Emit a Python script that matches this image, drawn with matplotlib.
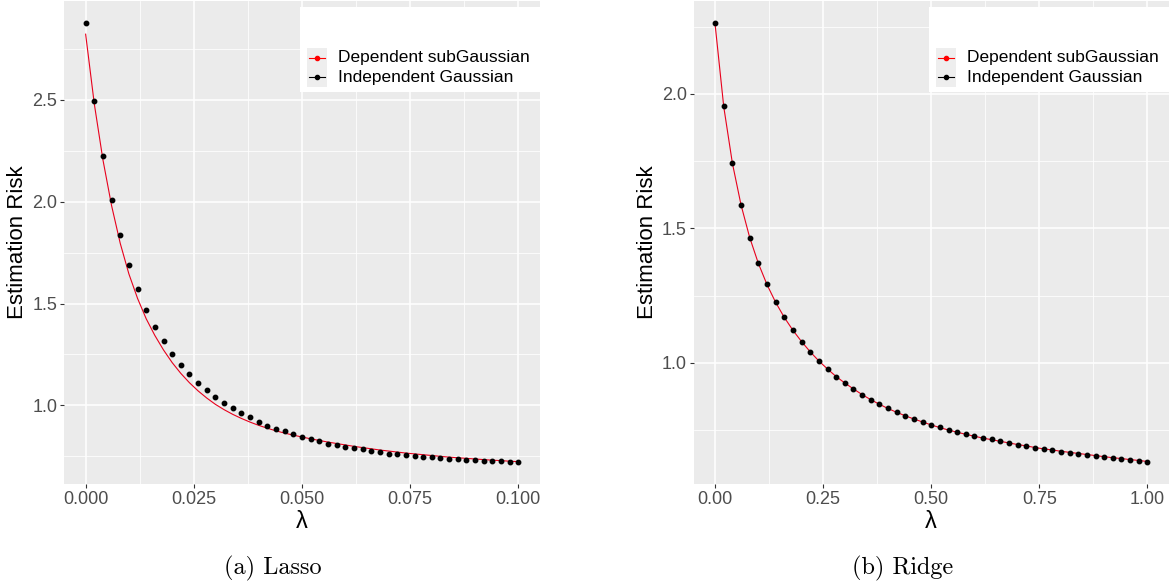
import numpy as np
import matplotlib.pyplot as plt
from matplotlib.patches import Rectangle
from matplotlib.lines import Line2D

plt.rcParams['font.family'] = ['Liberation Sans', 'DejaVu Sans']

# 数据：lambda 网格
lasso_lambda = np.linspace(0, 0.1, 51)
ridge_lambda = np.linspace(0, 1.0, 51)

# Lasso: Dependent subGaussian (红线)
lasso_dep = [2.822, 2.480, 2.205, 1.980, 1.795, 1.645, 1.525, 1.425, 1.343, 1.272,
             1.210, 1.157, 1.111, 1.071, 1.036, 1.005, 0.979, 0.956, 0.936, 0.918,
             0.902, 0.888, 0.875, 0.864, 0.854, 0.845, 0.836, 0.828, 0.820, 0.813,
             0.806, 0.799, 0.793, 0.787, 0.781, 0.776, 0.771, 0.766, 0.762, 0.758,
             0.754, 0.750, 0.746, 0.743, 0.740, 0.737, 0.734, 0.731, 0.729, 0.726,
             0.724]
# Lasso: Independent Gaussian (黑点)
lasso_ind = [2.877, 2.492, 2.226, 2.010, 1.837, 1.691, 1.570, 1.469, 1.386, 1.314,
             1.251, 1.197, 1.152, 1.108, 1.074, 1.040, 1.013, 0.985, 0.962, 0.941,
             0.918, 0.901, 0.886, 0.873, 0.859, 0.847, 0.835, 0.824, 0.813, 0.805,
             0.797, 0.790, 0.784, 0.775, 0.769, 0.763, 0.762, 0.756, 0.751, 0.748,
             0.745, 0.741, 0.739, 0.735, 0.734, 0.730, 0.728, 0.727, 0.725, 0.722,
             0.722]

# Ridge
ridge_dep = [2.258, 1.952, 1.742, 1.587, 1.466, 1.370, 1.291, 1.225, 1.169, 1.121,
             1.079, 1.041, 1.007, 0.977, 0.949, 0.925, 0.903, 0.882, 0.863, 0.846,
             0.830, 0.816, 0.803, 0.791, 0.780, 0.769, 0.759, 0.750, 0.742, 0.734,
             0.727, 0.720, 0.714, 0.708, 0.702, 0.696, 0.691, 0.685, 0.680, 0.676,
             0.671, 0.667, 0.663, 0.659, 0.655, 0.651, 0.647, 0.644, 0.640, 0.637,
             0.633]
ridge_ind = [2.264, 1.955, 1.743, 1.588, 1.466, 1.372, 1.292, 1.225, 1.169, 1.122,
             1.079, 1.040, 1.006, 0.976, 0.948, 0.925, 0.903, 0.882, 0.863, 0.846,
             0.831, 0.816, 0.803, 0.791, 0.780, 0.770, 0.760, 0.750, 0.742, 0.735,
             0.728, 0.721, 0.715, 0.708, 0.701, 0.695, 0.690, 0.684, 0.679, 0.674,
             0.669, 0.666, 0.662, 0.658, 0.654, 0.649, 0.645, 0.641, 0.638, 0.636,
             0.631]

lasso_xticks = [0.0, 0.025, 0.05, 0.075, 0.1]
lasso_xlabels = ["0.000", "0.025", "0.050", "0.075", "0.100"]
lasso_yticks = [1.0, 1.5, 2.0, 2.5]
ridge_xticks = [0.0, 0.25, 0.5, 0.75, 1.0]
ridge_xlabels = ["0.00", "0.25", "0.50", "0.75", "1.00"]
ridge_yticks = [1.0, 1.5, 2.0]

legend_labels = ["Dependent subGaussian", "Independent Gaussian"]
captions = ["(a) Lasso", "(b) Ridge"]

W, H = 1172, 586


def draw_panel(ax, lam, dep, ind, xticks, xlabels, yticks):
    ax.set_facecolor("#EBEBEB")
    for s in ax.spines.values():
        s.set_visible(False)
    # ggplot 风格的 5% 扩展
    xr = lam[-1] - lam[0]
    ax.set_xlim(lam[0] - 0.05 * xr, lam[-1] + 0.05 * xr)
    lo = min(min(dep), min(ind))
    hi = max(max(dep), max(ind))
    ax.set_ylim(lo - 0.05 * (hi - lo), hi + 0.05 * (hi - lo))

    ax.set_xticks(xticks)
    ax.set_xticklabels(xlabels)
    ax.set_xticks([(a + b) / 2 for a, b in zip(xticks[:-1], xticks[1:])], minor=True)
    ax.set_yticks(yticks)
    ax.set_yticklabels(["%.1f" % v for v in yticks])
    ymin = [yticks[0] - 0.25] + [(a + b) / 2 for a, b in zip(yticks[:-1], yticks[1:])] + [yticks[-1] + 0.25]
    ax.set_yticks(ymin, minor=True)

    ax.grid(which="major", color="white", lw=1.1)
    ax.grid(which="minor", color="white", lw=0.55)
    ax.set_axisbelow(True)
    ax.tick_params(which="major", length=2.9, width=0.8, color="#333333",
                   labelcolor="#4D4D4D", labelsize=13, pad=2)
    ax.tick_params(which="minor", length=0)

    ax.plot(lam, dep, color="#E8001C", lw=0.8, zorder=3)
    ax.plot(lam, ind, "o", color="black", ms=3.2, zorder=4)

    ax.set_xlabel("λ", fontsize=17, va="center")
    ax.xaxis.set_label_coords(0.5, -0.079)
    ax.set_ylabel("Estimation Risk", fontsize=16, va="center")
    ax.yaxis.set_label_coords(-0.097, 0.5)

    # 图例（白底，灰色 key）
    ax.add_patch(Rectangle((0.496, 0.812), 0.504, 0.176, transform=ax.transAxes,
                           fc="white", ec="none", zorder=5, clip_on=False))
    for i, (lab, col) in enumerate(zip(legend_labels, ["red", "black"])):
        yc = 0.883 - i * 0.041
        ax.add_patch(Rectangle((0.5105, yc - 0.0205), 0.042, 0.041, transform=ax.transAxes,
                               fc="#EEEEEE", ec="none", zorder=6))
        ax.add_line(Line2D([0.515, 0.548], [yc, yc], transform=ax.transAxes,
                           color=col, lw=0.8, zorder=7))
        ax.add_line(Line2D([0.5315], [yc], transform=ax.transAxes, marker="o",
                           color=col, ms=3, zorder=7))
        ax.text(0.5756, yc, lab, transform=ax.transAxes, fontsize=12.5,
                va="center", ha="left", zorder=7)


fig = plt.figure(figsize=(W / 100, H / 100), dpi=100)
ax1 = fig.add_axes([64 / W, 1 - 484 / H, 476 / W, 483 / H])
ax2 = fig.add_axes([693.5 / W, 1 - 484 / H, 475.5 / W, 483 / H])

draw_panel(ax1, lasso_lambda, lasso_dep, lasso_ind, lasso_xticks, lasso_xlabels, lasso_yticks)
draw_panel(ax2, ridge_lambda, ridge_dep, ridge_ind, ridge_xticks, ridge_xlabels, ridge_yticks)

fig.text(273 / W, 1 - 568 / H, captions[0], family="cmr10", fontsize=17.5, ha="center", va="center")
fig.text(903 / W, 1 - 568 / H, captions[1], family="cmr10", fontsize=17.5, ha="center", va="center")

fig.savefig("out.png", dpi=100)
